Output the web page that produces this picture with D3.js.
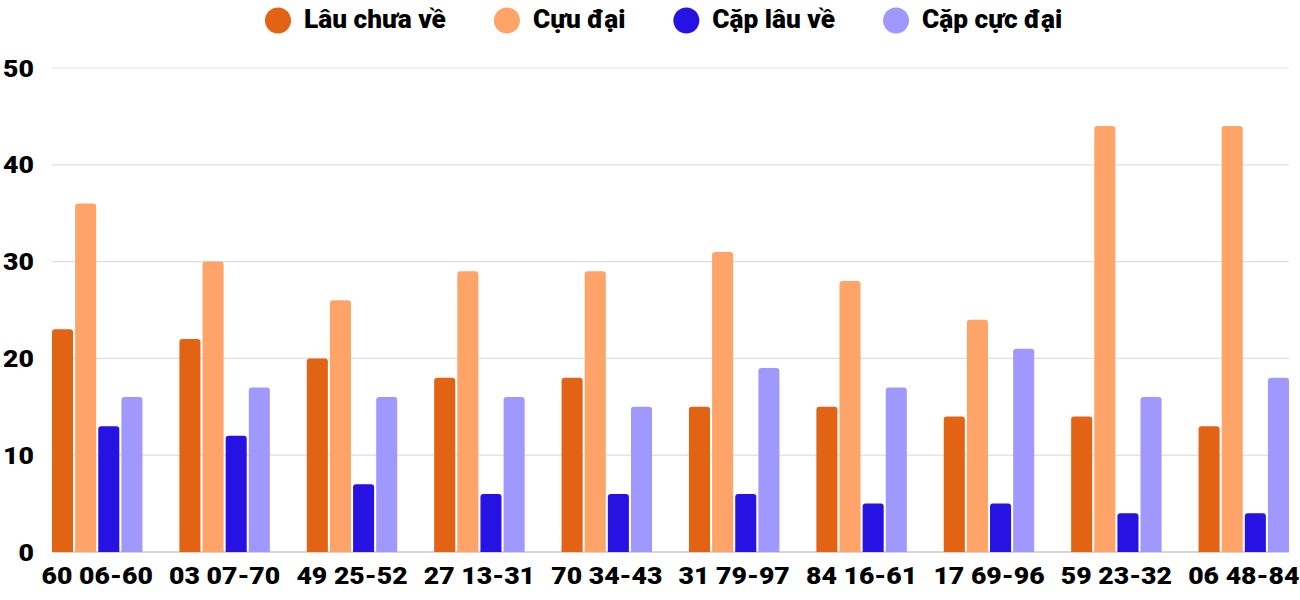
<!DOCTYPE html>
<html><head><meta charset="utf-8">
<script src="https://cdn.jsdelivr.net/npm/d3@7"></script>
<style>body{margin:0;background:#fff;}svg{display:block;font-family:Roboto,sans-serif;}</style>
</head><body><svg id="c" width="1300" height="600"></svg>
<script>
const categories = ["60 06-60","03 07-70","49 25-52","27 13-31","70 34-43","31 79-97","84 16-61","17 69-96","59 23-32","06 48-84"];
const seriesNames = ["Lâu chưa về","Cựu đại","Cặp lâu về","Cặp cực đại"];
const lauChuaVe = [23,22,20,18,18,15,15,14,14,13];
const cuuDai = [36,30,26,29,29,31,28,24,44,44];
const capLauVe = [13,12,7,6,6,6,5,5,4,4];
const capCucDai = [16,17,16,16,15,19,17,21,16,18];
const yTicks = [0,10,20,30,40,50];
const colors = ["#e26314","#ffa469","#2612e2","#a098ff"];
const series = [lauChuaVe, cuuDai, capLauVe, capCucDai];

(function(){
const svg = d3.select("#c");
const pL = 52, pR = 1289, pT = 68, pB = 552;
const y = d3.scaleLinear().domain([0,50]).range([pB, pT]);
const x0 = d3.scaleBand().domain(categories).range([pL, pR]).paddingInner(0.29).paddingOuter(0);
const x1 = d3.scaleBand().domain(d3.range(4)).range([0, x0.bandwidth()]).paddingInner(0.09);

svg.append("g").selectAll("line").data(yTicks).join("line")
  .attr("x1", pL).attr("x2", pR)
  .attr("y1", d=>y(d)).attr("y2", d=>y(d))
  .attr("stroke", d=> d===0 ? "#c8c8c8" : (d===50 ? "#ececec" : "#dedede")).attr("stroke-width",1.3);

const sx = 1.11;
svg.append("g").selectAll("text").data(yTicks).join("text")
  .attr("transform", d=>`translate(34,${y(d)}) scale(${sx},1)`)
  .attr("dy","0.36em").attr("text-anchor","end")
  .attr("font-size",24).attr("font-weight",900).attr("fill","#000").text(d=>d);

function roundTop(x, yTop, w, h, r){
  r = Math.min(r, h, w/2);
  return `M${x},${yTop+h}V${yTop+r}Q${x},${yTop} ${x+r},${yTop}H${x+w-r}Q${x+w},${yTop} ${x+w},${yTop+r}V${yTop+h}Z`;
}
const g = svg.append("g");
categories.forEach((c,i)=>{
  series.forEach((s,j)=>{
    const bx = x0(c)+x1(j), w = x1.bandwidth();
    const yt = y(s[i]);
    g.append("path").attr("d", roundTop(bx, yt, w, pB-yt, 3)).attr("fill", colors[j]);
  });
});

svg.append("g").selectAll("text").data(categories).join("text")
  .attr("transform", d=>`translate(${x0(d)+x0.bandwidth()/2},584) scale(${sx},1)`)
  .attr("text-anchor","middle")
  .attr("font-size",24).attr("font-weight",900).attr("fill","#000").text(d=>d);

const leg = svg.append("g");
const lsx = 1.05;
let lx = 265;
seriesNames.forEach((n,j)=>{
  leg.append("circle").attr("cx", lx+13).attr("cy", 20.5).attr("r", 13).attr("fill", colors[j]);
  const t = leg.append("text").attr("transform", `translate(${lx+39},27.5) scale(${lsx},1)`)
    .attr("font-size",25).attr("font-weight",900).attr("fill","#000").text(n);
  const w = t.node().getComputedTextLength()*lsx;
  lx = lx + 39 + w + 48;
});
})();
</script></body></html>
